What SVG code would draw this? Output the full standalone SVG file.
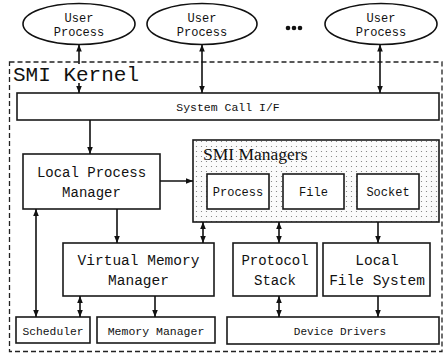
<svg xmlns="http://www.w3.org/2000/svg" width="443" height="355" viewBox="0 0 443 355">
  <style>
    .box { fill: #fff; stroke: #1a1a1a; stroke-width: 1.6; }
    .mono { font-family: "Liberation Mono", "Courier New", monospace; fill: #111; text-anchor: middle; }
    .conn { stroke: #111; stroke-width: 1.6; fill: none; }
    .one { marker-end: url(#ah); }
    .two { marker-start: url(#ah); marker-end: url(#ah); }
  </style>
  <defs>
    <marker id="ah" viewBox="0 0 8 8" refX="8" refY="4" markerWidth="7" markerHeight="7" orient="auto-start-reverse" markerUnits="userSpaceOnUse">
      <path d="M0,0.8 L8,4 L0,7.2 z" fill="#111"/>
    </marker>
    <!-- stippled fill for the SMI Managers container -->
    <pattern id="dots" width="5" height="5" patternUnits="userSpaceOnUse">
      <rect width="5" height="5" fill="#fbfbfb"/>
      <circle cx="1.5" cy="1.5" r="0.6" fill="#777"/>
    </pattern>
  </defs>

  <rect width="443" height="355" fill="#fff"/>

  <!-- user processes -->
  <g id="user1">
    <ellipse cx="79" cy="24" rx="56" ry="20.5" fill="#fff" stroke="#111" stroke-width="1.6"/>
    <text class="mono" x="79" y="22" font-size="12">User</text>
    <text class="mono" x="79" y="36" font-size="12">Process</text>
  </g>
  <g id="user2">
    <ellipse cx="202" cy="24" rx="55" ry="20.5" fill="#fff" stroke="#111" stroke-width="1.6"/>
    <text class="mono" x="202" y="22" font-size="12">User</text>
    <text class="mono" x="202" y="36" font-size="12">Process</text>
  </g>
  <g id="ellipsis">
    <circle cx="288" cy="28" r="2.3" fill="#111"/>
    <circle cx="294" cy="28" r="2.3" fill="#111"/>
    <circle cx="300" cy="28" r="2.3" fill="#111"/>
  </g>
  <g id="user3">
    <ellipse cx="381" cy="24" rx="56" ry="20.5" fill="#fff" stroke="#111" stroke-width="1.6"/>
    <text class="mono" x="381" y="22" font-size="12">User</text>
    <text class="mono" x="381" y="36" font-size="12">Process</text>
  </g>

  <!-- kernel boundary -->
  <g id="kernel">
    <rect x="9.5" y="62" width="432.5" height="289.5" fill="none" stroke="#222" stroke-width="1.3" stroke-dasharray="5,3"/>
    <text x="13" y="81" font-family="Liberation Mono, Courier New, monospace" font-size="21" fill="#111">SMI Kernel</text>
  </g>

  <g id="syscall">
    <rect class="box" x="17" y="93" width="422" height="27"/>
    <text class="mono" x="228" y="110.5" font-size="11.5">System Call I/F</text>
  </g>

  <g id="lpm">
    <rect class="box" x="23" y="154" width="137" height="55"/>
    <text class="mono" x="91.5" y="176.5" font-size="14">Local Process</text>
    <text class="mono" x="91.5" y="196.5" font-size="14">Manager</text>
  </g>

  <g id="smi-managers">
    <rect x="193" y="140" width="246" height="82" fill="url(#dots)" stroke="#1a1a1a" stroke-width="1.6"/>
    <text x="203" y="160" font-family="Liberation Serif, Times New Roman, serif" font-size="17.5" fill="#111">SMI Managers</text>
  </g>
  <g id="process">
    <rect class="box" x="207" y="174" width="62" height="35"/>
    <text class="mono" x="238" y="196" font-size="12">Process</text>
  </g>
  <g id="file">
    <rect class="box" x="283" y="174" width="61" height="35"/>
    <text class="mono" x="313.5" y="196" font-size="12">File</text>
  </g>
  <g id="socket">
    <rect class="box" x="357" y="174" width="62" height="35"/>
    <text class="mono" x="388" y="196" font-size="12">Socket</text>
  </g>

  <g id="vmm">
    <rect class="box" x="63" y="243" width="151" height="53"/>
    <text class="mono" x="138.5" y="264.5" font-size="14.5">Virtual Memory</text>
    <text class="mono" x="138.5" y="285" font-size="14.5">Manager</text>
  </g>
  <g id="protocol">
    <rect class="box" x="233" y="243" width="84" height="53"/>
    <text class="mono" x="275" y="264.5" font-size="14">Protocol</text>
    <text class="mono" x="275" y="284.5" font-size="14">Stack</text>
  </g>
  <g id="lfs">
    <rect class="box" x="323" y="243" width="107" height="53"/>
    <text class="mono" x="377" y="264.5" font-size="14.5">Local</text>
    <text class="mono" x="377" y="284.5" font-size="14.5">File System</text>
  </g>

  <g id="scheduler">
    <rect class="box" x="16" y="317" width="74" height="26"/>
    <text class="mono" x="53" y="334.5" font-size="11.3">Scheduler</text>
  </g>
  <g id="memmgr">
    <rect class="box" x="97" y="317" width="118" height="26"/>
    <text class="mono" x="156" y="334.5" font-size="11.5">Memory Manager</text>
  </g>
  <g id="drivers">
    <rect class="box" x="227" y="317" width="212" height="27"/>
    <text class="mono" x="340" y="334.5" font-size="11">Device Drivers</text>
  </g>

  <!-- connectors -->
  <g id="connectors">
    <line class="conn" x1="79" y1="64" x2="79" y2="44.5" marker-end="url(#ah)"/>
    <line class="conn one" x1="79" y1="83" x2="79" y2="93"/>
    <line class="conn two" x1="202" y1="44.5" x2="202" y2="93"/>
    <line class="conn two" x1="380" y1="44.5" x2="380" y2="93"/>
    <line class="conn one" x1="90" y1="120" x2="90" y2="154"/>
    <line class="conn one" x1="160" y1="181" x2="193" y2="181"/>
    <line class="conn two" x1="36" y1="209" x2="36" y2="317"/>
    <line class="conn one" x1="117" y1="209" x2="117" y2="243"/>
    <line class="conn two" x1="203" y1="222" x2="203" y2="243"/>
    <line class="conn two" x1="279" y1="222" x2="279" y2="243"/>
    <line class="conn one" x1="378" y1="222" x2="378" y2="243"/>
    <line class="conn two" x1="80" y1="296" x2="80" y2="317"/>
    <line class="conn one" x1="155" y1="296" x2="155" y2="317"/>
    <line class="conn two" x1="279" y1="296" x2="279" y2="317"/>
    <line class="conn one" x1="378" y1="296" x2="378" y2="317"/>
  </g>
</svg>
